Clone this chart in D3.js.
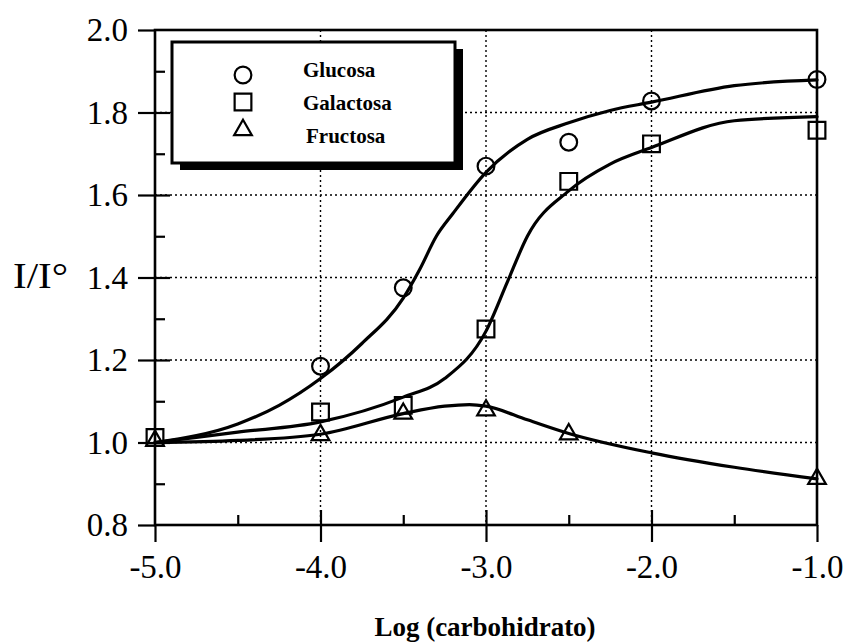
<!DOCTYPE html>
<html>
<head>
<meta charset="utf-8">
<script src="https://cdn.jsdelivr.net/npm/d3@7"></script>
<style>
  html, body { margin: 0; padding: 0; background: #fff; }
  svg { display: block; }
  text { fill: #000; }
</style>
</head>
<body>
<svg id="chart" width="845" height="642"></svg>
<script>
// Axis ticks and labels
const xTicks = [-5, -4, -3, -2, -1];
const xMinorTicks = [-4.5, -3.5, -2.5, -1.5];
const yTicks = [0.8, 1.0, 1.2, 1.4, 1.6, 1.8, 2.0];
const yMinorTicks = [0.9, 1.1, 1.3, 1.5, 1.7, 1.9];
const xGrid = [-4, -3, -2];
const yGrid = [1.0, 1.2, 1.4, 1.6, 1.8];
const xTitle = "Log (carbohidrato)";
const yTitle = "I/I°";

// Series names (legend order)
const seriesNames = ["Glucosa", "Galactosa", "Fructosa"];

// Measured points
const glucosaX = [-4, -3.5, -3, -2.5, -2, -1];
const glucosaY = [1.185, 1.375, 1.67, 1.728, 1.828, 1.88];
const galactosaX = [-5, -4, -3.5, -3, -2.5, -2, -1];
const galactosaY = [1.012, 1.074, 1.09, 1.275, 1.633, 1.724, 1.757];
const fructosaX = [-5, -4, -3.5, -3, -2.5, -1];
const fructosaY = [1.004, 1.018, 1.07, 1.078, 1.02, 0.912];

// Fitted curves (sampled)
const glucosaFitX = [-5, -4.5, -4.25, -4, -3.75, -3.5, -3.4, -3.3, -3.2, -3.0, -2.75, -2.5, -2.25, -2, -1.5, -1];
const glucosaFitY = [1.0, 1.045, 1.09, 1.155, 1.24, 1.35, 1.42, 1.5, 1.555, 1.655, 1.735, 1.775, 1.805, 1.825, 1.865, 1.879];
const galactosaFitX = [-5, -4.5, -4, -3.5, -3.25, -3, -2.87, -2.75, -2.5, -2.25, -2, -1.5, -1];
const galactosaFitY = [1.0, 1.025, 1.05, 1.11, 1.155, 1.27, 1.39, 1.5, 1.61, 1.675, 1.715, 1.78, 1.79];
const fructosaFitX = [-5, -4.5, -4, -3.5, -3.25, -3.1, -3, -2.75, -2.5, -2, -1.5, -1];
const fructosaFitY = [1.0, 1.005, 1.02, 1.07, 1.088, 1.092, 1.088, 1.055, 1.022, 0.975, 0.94, 0.912];

const svg = d3.select("#chart");
const plotLeft = 155, plotRight = 817, plotTop = 30, plotBottom = 525;

const x = d3.scaleLinear().domain([-5, -1]).range([plotLeft, plotRight]);
const y = d3.scaleLinear().domain([0.8, 2.0]).range([plotBottom, plotTop]);

const serif = "'Liberation Serif', 'Times New Roman', serif";
const fmt = d => d.toFixed(1);

// Dotted grid
const grid = svg.append("g").attr("stroke", "#000").attr("stroke-width", 1.4)
  .attr("stroke-dasharray", "2,3");
grid.selectAll("line.gx").data(xGrid).join("line").attr("class", "gx")
  .attr("x1", d => x(d)).attr("x2", d => x(d)).attr("y1", plotTop).attr("y2", plotBottom);
grid.selectAll("line.gy").data(yGrid).join("line").attr("class", "gy")
  .attr("y1", d => y(d)).attr("y2", d => y(d)).attr("x1", plotLeft).attr("x2", plotRight);

// Axes
function styleAxis(g, showText) {
  g.select(".domain").remove();
  g.selectAll(".tick line").attr("stroke", "#000").attr("stroke-width", 2.2);
  if (showText) {
    g.selectAll(".tick text").style("font-family", serif).style("font-size", "33px").attr("fill", "#000");
  } else {
    g.selectAll(".tick text").remove();
  }
}

svg.append("g").attr("transform", `translate(${plotLeft},0)`)
  .call(d3.axisLeft(y).tickValues(yTicks).tickSize(17).tickSizeOuter(0).tickPadding(10).tickFormat(fmt))
  .call(g => styleAxis(g, true));
svg.append("g").attr("transform", `translate(${plotLeft},0)`)
  .call(d3.axisRight(y).tickValues(yTicks.slice(1, -1)).tickSize(15).tickSizeOuter(0))
  .call(g => styleAxis(g, false));
svg.append("g").attr("transform", `translate(${plotLeft},0)`)
  .call(d3.axisRight(y).tickValues(yMinorTicks).tickSize(10).tickSizeOuter(0))
  .call(g => styleAxis(g, false));

svg.append("g").attr("transform", `translate(0,${plotBottom})`)
  .call(d3.axisBottom(x).tickValues(xTicks).tickSize(17).tickSizeOuter(0).tickPadding(13).tickFormat(fmt))
  .call(g => styleAxis(g, true));
svg.append("g").attr("transform", `translate(0,${plotBottom})`)
  .call(d3.axisTop(x).tickValues(xTicks.slice(1, -1)).tickSize(15).tickSizeOuter(0))
  .call(g => styleAxis(g, false));
svg.append("g").attr("transform", `translate(0,${plotBottom})`)
  .call(d3.axisTop(x).tickValues(xMinorTicks).tickSize(10).tickSizeOuter(0))
  .call(g => styleAxis(g, false));

// Frame
svg.append("rect")
  .attr("x", plotLeft).attr("y", plotTop).attr("width", plotRight - plotLeft).attr("height", plotBottom - plotTop)
  .attr("fill", "none").attr("stroke", "#000").attr("stroke-width", 2.6);

// Legend box with drop shadow
const lg = svg.append("g");
const lx = 172, ly = 42, lw = 283, lh = 121;
lg.append("rect").attr("x", lx + 8).attr("y", ly + 7).attr("width", lw).attr("height", lh).attr("fill", "#000");
lg.append("rect").attr("x", lx).attr("y", ly).attr("width", lw).attr("height", lh)
  .attr("fill", "#fff").attr("stroke", "#000").attr("stroke-width", 3);

// Fitted curves
const fits = [
  glucosaFitX.map((v, i) => [v, glucosaFitY[i]]),
  galactosaFitX.map((v, i) => [v, galactosaFitY[i]]),
  fructosaFitX.map((v, i) => [v, fructosaFitY[i]])
];
const line = d3.line().x(d => x(d[0])).y(d => y(d[1])).curve(d3.curveMonotoneX);
svg.append("g").selectAll("path").data(fits).join("path")
  .attr("d", line).attr("fill", "none").attr("stroke", "#000")
  .attr("stroke-width", 3.2).attr("stroke-linejoin", "round").attr("stroke-linecap", "round");

// Markers
const symbols = [d3.symbolCircle, d3.symbolSquare, d3.symbolTriangle];
const sizes = [220, 280, 135];
const points = [
  glucosaX.map((v, i) => [v, glucosaY[i]]),
  galactosaX.map((v, i) => [v, galactosaY[i]]),
  fructosaX.map((v, i) => [v, fructosaY[i]])
];
points.forEach((pts, s) => {
  const sym = d3.symbol().type(symbols[s]).size(sizes[s]);
  svg.append("g").selectAll("path").data(pts).join("path")
    .attr("d", sym)
    .attr("transform", d => `translate(${x(d[0])},${y(d[1])})`)
    .attr("fill", "none").attr("stroke", "#000").attr("stroke-width", 2.2);
});

// Legend entries
const legendSymY = [75, 102, 130];
const legendTextX = [303, 303, 306];
const legendTextY = [77, 110, 143];
seriesNames.forEach((name, i) => {
  lg.append("path")
    .attr("d", d3.symbol().type(symbols[i]).size(sizes[i])())
    .attr("transform", `translate(243,${legendSymY[i]})`)
    .attr("fill", "none").attr("stroke", "#000").attr("stroke-width", 2.2);
  lg.append("text")
    .attr("x", legendTextX[i]).attr("y", legendTextY[i])
    .style("font-family", serif).style("font-size", "21px").style("font-weight", "bold")
    .text(name);
});

// Axis titles
svg.append("text")
  .attr("x", 13).attr("y", 288)
  .attr("textLength", 55).attr("lengthAdjust", "spacingAndGlyphs")
  .style("font-family", serif).style("font-size", "35px")
  .text(yTitle);
svg.append("text")
  .attr("x", 485).attr("y", 636).attr("text-anchor", "middle")
  .style("font-family", serif).style("font-size", "27px").style("font-weight", "bold")
  .text(xTitle);
</script>
</body>
</html>
